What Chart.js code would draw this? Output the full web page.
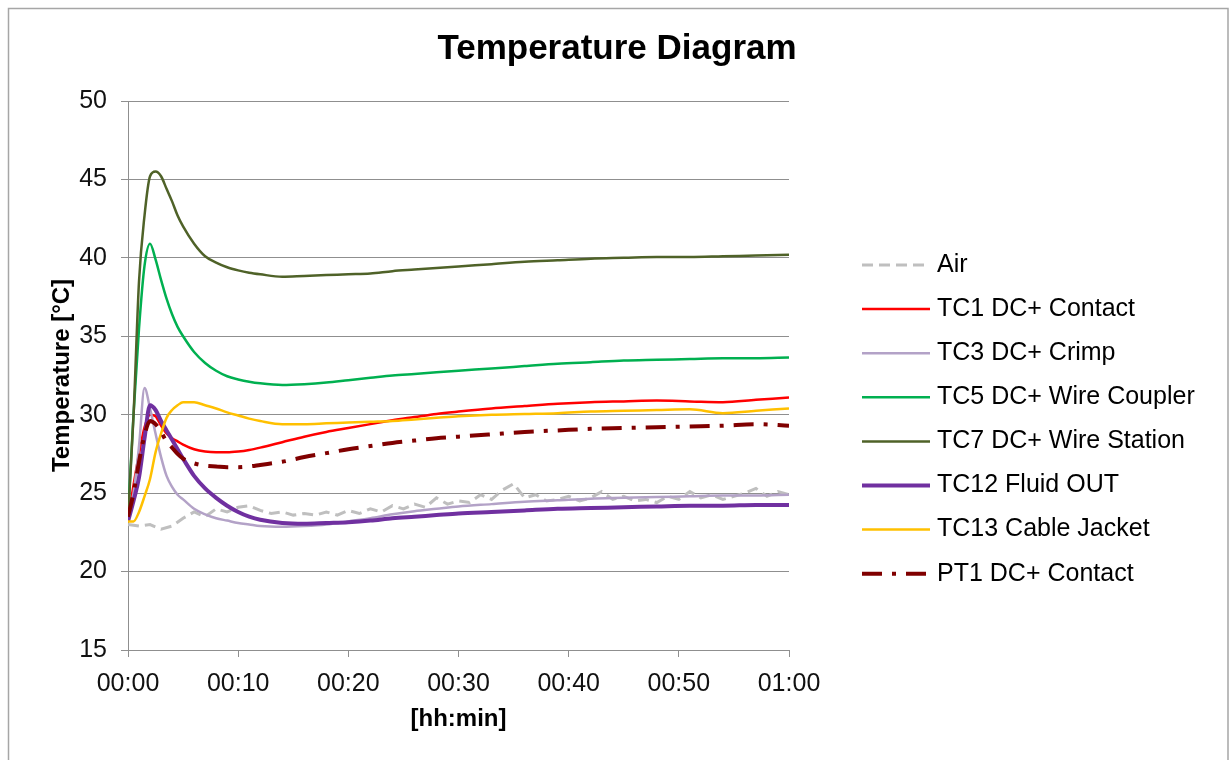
<!DOCTYPE html>
<html lang="en">
<head>
  <meta charset="UTF-8" />
  <title>Temperature Diagram</title>
  <script src="https://cdn.jsdelivr.net/npm/chart.js"></script>
  <style>
    html, body { margin: 0; padding: 0; background: #fff; }
    #wrap { width: 1230px; height: 760px; }
  </style>
</head>
<body>
  <div id="wrap"><canvas id="tempChart" width="1230" height="760"></canvas></div>

  <script>
    // time axis in minutes (00:00 .. 01:00)
    const minutes = [0, 0.5, 1, 1.5, 2, 2.5, 3, 3.5, 4, 4.5,
                     5, 6, 7, 8, 9, 10, 11, 12,
                     14, 16, 18, 20, 22, 24, 26, 28, 30,
                     33, 36, 39, 42, 45, 48, 51, 54, 57, 60];

    const tc1  = [23.3, 25.5, 27.5, 29.2, 30.0, 29.9, 29.3, 28.8, 28.5, 28.3,
                  28.1, 27.8, 27.65, 27.6, 27.6, 27.65, 27.75, 27.9,
                  28.25, 28.6, 28.9, 29.15, 29.4, 29.65, 29.85, 30.05, 30.2,
                  30.4, 30.55, 30.7, 30.8, 30.85, 30.9, 30.85, 30.8, 30.95, 31.1];
    const tc3  = [23.5, 25.0, 28.0, 31.7, 30.4, 28.8, 27.3, 26.1, 25.4, 24.9,
                  24.6, 24.0, 23.65, 23.4, 23.25, 23.1, 23.0, 22.9,
                  22.85, 22.9, 23.0, 23.2, 23.4, 23.65, 23.85, 24.0, 24.15,
                  24.3, 24.45, 24.55, 24.65, 24.7, 24.75, 24.8, 24.85, 24.85, 24.9];
    const tc5  = [23.5, 30.0, 35.5, 39.5, 40.9, 39.9, 38.6, 37.4, 36.4, 35.6,
                  35.0, 34.0, 33.3, 32.8, 32.45, 32.25, 32.1, 32.0,
                  31.9, 31.95, 32.05, 32.2, 32.35, 32.5, 32.6, 32.7, 32.8,
                  32.95, 33.1, 33.25, 33.35, 33.45, 33.5, 33.55, 33.6, 33.6, 33.65];
    const tc7  = [23.4, 29.9, 38.5, 42.7, 45.2, 45.5, 45.2, 44.4, 43.6, 42.7,
                  42.0, 40.9, 40.1, 39.7, 39.4, 39.2, 39.05, 38.95,
                  38.8, 38.85, 38.9, 38.95, 39.0, 39.15, 39.25, 39.35, 39.45,
                  39.6, 39.75, 39.85, 39.95, 40.0, 40.05, 40.05, 40.1, 40.15, 40.2];
    const tc12 = [23.2, 24.5, 26.0, 28.5, 30.6, 30.3, 29.6, 29.0, 28.4, 27.8,
                  27.2, 26.1, 25.3, 24.7, 24.2, 23.8, 23.5, 23.3,
                  23.1, 23.05, 23.1, 23.15, 23.25, 23.4, 23.5, 23.6, 23.7,
                  23.8, 23.9, 24.0, 24.05, 24.1, 24.15, 24.2, 24.2, 24.25, 24.25];
    const tc13 = [23.2, 23.2, 23.8, 24.8, 25.9, 27.6, 28.8, 29.8, 30.3, 30.6,
                  30.8, 30.8, 30.6, 30.4, 30.15, 29.95, 29.75, 29.6,
                  29.4, 29.4, 29.45, 29.5, 29.55, 29.6, 29.7, 29.8, 29.9,
                  30.0, 30.05, 30.1, 30.2, 30.25, 30.3, 30.35, 30.1, 30.25, 30.4];
    const pt1  = [23.5, 25.0, 27.0, 28.7, 29.6, 29.4, 28.9, 28.3, 27.9, 27.5,
                  27.2, 26.9, 26.75, 26.7, 26.65, 26.65, 26.7, 26.8,
                  27.0, 27.3, 27.55, 27.8, 28.0, 28.2, 28.35, 28.5, 28.6,
                  28.75, 28.9, 29.0, 29.1, 29.15, 29.2, 29.25, 29.3, 29.4, 29.3];

    // air is logged once a minute and is noisy
    const airMinutes = [0, 1, 2, 3, 4, 5, 6, 7, 8, 9,
                        10, 11, 12, 13, 14, 15, 16, 17, 18, 19,
                        20, 21, 22, 23, 24, 25, 26, 27, 28, 29,
                        30, 31, 32, 33, 34, 35, 36, 37, 38, 39,
                        40, 41, 42, 43, 44, 45, 46, 47, 48, 49,
                        50, 51, 52, 53, 54, 55, 56, 57, 58, 59, 60];
    const air = [23.0, 22.9, 23.0, 22.7, 22.9, 23.4, 23.8, 23.5, 24.0, 23.8,
                 24.1, 24.2, 23.9, 23.7, 23.8, 23.6, 23.7, 23.6, 23.8, 23.6,
                 23.9, 23.7, 24.0, 23.8, 24.2, 24.0, 24.3, 24.1, 24.7, 24.3,
                 24.5, 24.4, 24.9, 24.6, 25.2, 25.6, 24.7, 24.9, 24.5, 24.6,
                 24.8, 24.5, 24.7, 25.1, 24.6, 24.8, 24.5, 24.6, 24.4, 24.8,
                 24.6, 25.1, 24.7, 24.9, 24.6, 24.8, 25.0, 25.3, 24.8, 25.1, 24.9];

    const FONT = "'Liberation Sans', Arial, sans-serif";
    const GRID = '#8f8f8f';
    const TITLE = 'Temperature Diagram';

    const pts = (xs, ys) => xs.map((x, i) => ({ x: x, y: ys[i] }));
    const hhmm = m => {
      const h = Math.floor(m / 60), mm = m % 60;
      return String(h).padStart(2, '0') + ':' + String(mm).padStart(2, '0');
    };

    const series = [
      { label: 'Air',                  data: pts(airMinutes, air), borderColor: '#bfbfbf', borderWidth: 3, borderDash: [11, 6], tension: 0 },
      { label: 'TC1 DC+ Contact',      data: pts(minutes, tc1),  borderColor: '#ff0000', borderWidth: 2.5 },
      { label: 'TC3 DC+ Crimp',        data: pts(minutes, tc3),  borderColor: '#b3a2c7', borderWidth: 2.5 },
      { label: 'TC5 DC+ Wire Coupler', data: pts(minutes, tc5),  borderColor: '#00b050', borderWidth: 2.5 },
      { label: 'TC7 DC+ Wire Station', data: pts(minutes, tc7),  borderColor: '#4f6228', borderWidth: 2.5 },
      { label: 'TC12 Fluid OUT',       data: pts(minutes, tc12), borderColor: '#7030a0', borderWidth: 4 },
      { label: 'TC13 Cable Jacket',    data: pts(minutes, tc13), borderColor: '#ffc000', borderWidth: 2.5 },
      { label: 'PT1 DC+ Contact',      data: pts(minutes, pt1),  borderColor: '#800000', borderWidth: 4, borderDash: [20, 10, 4, 10] }
    ];

    // later series sit on top, like in the spreadsheet
    series.forEach((s, i) => {
      s.order = series.length - i;
      s.pointRadius = 0;
      s.fill = false;
      if (s.tension === undefined) s.cubicInterpolationMode = 'monotone';
    });

    // frame around the whole chart + title centred on the canvas
    const framePlugin = {
      id: 'frame',
      beforeDraw(chart) {
        const ctx = chart.ctx;
        ctx.save();
        ctx.fillStyle = '#fff';
        ctx.fillRect(0, 0, chart.width, chart.height);
        ctx.strokeStyle = '#a6a6a6';
        ctx.lineWidth = 1.5;
        ctx.strokeRect(8.5, 8.5, 1219.5, 780);
        ctx.font = 'bold 35px ' + FONT;
        ctx.fillStyle = '#000';
        ctx.textAlign = 'center';
        ctx.textBaseline = 'middle';
        ctx.fillText(TITLE, 617, 49);
        ctx.restore();
      }
    };

    // legend to the right of the plot
    const sideLegend = {
      id: 'sideLegend',
      afterDraw(chart) {
        const ctx = chart.ctx;
        chart.data.datasets.forEach((ds, i) => {
          const y = 265 + i * 44.1;
          ctx.save();
          ctx.strokeStyle = ds.borderColor;
          ctx.lineWidth = ds.borderWidth;
          ctx.setLineDash(ds.borderDash || []);
          ctx.beginPath();
          ctx.moveTo(862, y);
          ctx.lineTo(930, y);
          ctx.stroke();
          ctx.restore();
          ctx.save();
          ctx.font = '25px ' + FONT;
          ctx.fillStyle = '#000';
          ctx.textBaseline = 'middle';
          ctx.fillText(ds.label, 937, y);
          ctx.restore();
        });
      }
    };

    new Chart(document.getElementById('tempChart'), {
      type: 'line',
      data: { datasets: series },
      plugins: [framePlugin, sideLegend],
      options: {
        responsive: false,
        animation: false,
        layout: { padding: { left: 20, right: 441, top: 101, bottom: 0 } },
        plugins: {
          legend: { display: false },
          tooltip: { enabled: false },
          title: { display: false }
        },
        scales: {
          x: {
            type: 'linear',
            min: 0,
            max: 60,
            afterFit(scale) { scale.height = 110; },
            ticks: {
              stepSize: 10,
              color: '#111',
              padding: 12,
              maxRotation: 0,
              font: { family: FONT, size: 25 },
              callback: v => hhmm(v)
            },
            grid: { drawOnChartArea: false, drawTicks: true, tickLength: 7, color: GRID },
            border: { display: true, color: GRID },
            title: {
              display: true,
              text: '[hh:min]',
              color: '#000',
              font: { family: FONT, size: 24, weight: 'bold' },
              padding: { top: 0, bottom: 26 }
            }
          },
          y: {
            min: 15,
            max: 50,
            afterFit(scale) { scale.width = 108; },
            ticks: {
              stepSize: 5,
              color: '#111',
              padding: 14,
              font: { family: FONT, size: 25 }
            },
            grid: { color: GRID, tickLength: 7 },
            border: { display: true, color: GRID },
            title: {
              display: true,
              text: 'Temperature [°C]',
              color: '#000',
              font: { family: FONT, size: 24, weight: 'bold' },
              padding: { top: 28, bottom: 0 }
            }
          }
        }
      }
    });
  </script>
</body>
</html>
